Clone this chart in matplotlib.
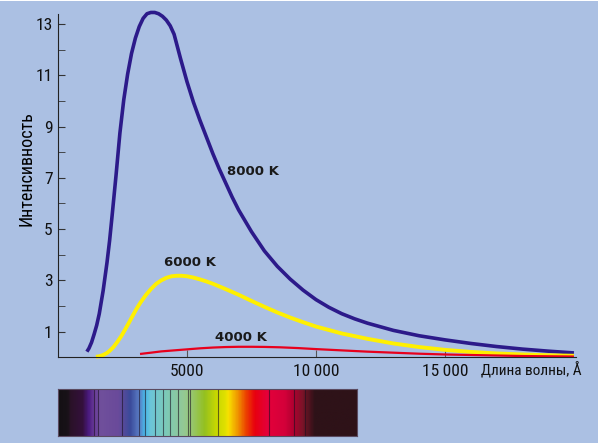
import matplotlib.pyplot as plt
import numpy as np
from matplotlib.colors import LinearSegmentedColormap
from matplotlib.patches import Rectangle

# wavelength (A) and intensity
wl_8000 = [1120, 1200, 1300, 1400, 1500, 1600, 1750, 1900, 2000, 2100, 2250, 2400,
           2550, 2700, 2850, 3000, 3150, 3300, 3450, 3600, 3750, 3900, 4050, 4200,
           4350, 4500, 4750, 5000, 5250, 5500, 5750, 6000, 6250, 6500, 6750, 7000,
           7500, 8000, 8500, 9000, 9500, 10000, 10500, 11000, 11500, 12000, 13000,
           14000, 15000, 16000, 17000, 18000, 19000, 20000]
i_8000 = [0.22, 0.35, 0.58, 0.9, 1.25, 1.7, 2.6, 3.7, 4.55, 5.55, 7.1, 8.75,
          10.05, 11.05, 11.85, 12.45, 12.9, 13.22, 13.4, 13.45, 13.45, 13.4, 13.3, 13.15,
          12.93, 12.6, 11.65, 10.75, 9.95, 9.25, 8.6, 7.95, 7.35, 6.8, 6.25, 5.75,
          4.9, 4.15, 3.55, 3.05, 2.62, 2.25, 1.95, 1.7, 1.5, 1.33, 1.05,
          0.84, 0.68, 0.54, 0.42, 0.32, 0.24, 0.17]

wl_6000 = [1470, 1600, 1750, 1900, 2000, 2150, 2300, 2450, 2600, 2750, 2900, 3050,
           3200, 3400, 3600, 3800, 4000, 4200, 4400, 4600, 4800, 5000, 5250, 5500,
           5750, 6000, 6500, 7000, 7500, 8000, 8500, 9000, 9500, 10000, 11000, 12000,
           13000, 14000, 15000, 16000, 17000, 18000, 19000, 20000]
i_6000 = [0.02, 0.04, 0.09, 0.17, 0.25, 0.4, 0.6, 0.82, 1.08, 1.35, 1.63, 1.9,
          2.14, 2.42, 2.66, 2.86, 3.0, 3.1, 3.16, 3.18, 3.18, 3.16, 3.11, 3.04,
          2.96, 2.87, 2.66, 2.44, 2.2, 1.97, 1.75, 1.55, 1.37, 1.2, 0.93, 0.72,
          0.54, 0.4, 0.29, 0.21, 0.15, 0.11, 0.08, 0.06]

wl_4000 = [3180, 3600, 4000, 4500, 5000, 5500, 6000, 6500, 7000, 7500, 8000, 8600,
           9300, 10000, 11000, 12000, 13000, 14000, 15000, 16000, 17000, 18000, 19000, 20000]
i_4000 = [0.13, 0.18, 0.23, 0.27, 0.31, 0.35, 0.38, 0.4, 0.41, 0.41, 0.405, 0.39,
          0.36, 0.32, 0.27, 0.22, 0.18, 0.14, 0.11, 0.09, 0.07, 0.05, 0.04, 0.03]

# spectrum strip: colour stops (fraction of strip width) and dark lines
spec_pos = [0.0, 0.03, 0.04, 0.08, 0.10, 0.12, 0.14, 0.20, 0.24, 0.27, 0.29, 0.31,
            0.36, 0.42, 0.44, 0.49, 0.53, 0.56, 0.57, 0.60, 0.63, 0.66, 0.70,
            0.76, 0.79, 0.82, 0.86, 1.0]
spec_col = ['#141014', '#181218', '#2a1228', '#34103c', '#4a1a80', '#6a3c98', '#70509c',
            '#6a4a9a', '#3a4a9a', '#5a7cc4', '#48b8e8', '#6cc6d8', '#7ccab8', '#94c894',
            '#98c87c', '#94c020', '#c8d800', '#e0e000', '#f8e200', '#f09a00', '#ec4000',
            '#e80010', '#e4003a', '#d4003a', '#b00030', '#7a1428', '#2e1218', '#2e1218']
spec_lines = [0.12, 0.135, 0.215, 0.27, 0.29, 0.325, 0.35, 0.375, 0.40, 0.435,
              0.44, 0.535, 0.705, 0.79, 0.825]

bg = '#abc0e3'

fig = plt.figure(figsize=(6, 4.45), dpi=100)
fig.patch.set_facecolor('white')
fig.patches.append(Rectangle((0, 0.004), 0.997, 0.993, transform=fig.transFigure,
                             facecolor=bg, edgecolor='none', zorder=-10))

narrow = ['Roboto Condensed', 'Liberation Sans Narrow', 'DejaVu Sans']

ax = fig.add_axes([58 / 600, 1 - 357.3 / 445, 518 / 600, 343.3 / 445])
ax.set_facecolor('none')
ax.plot(wl_8000, i_8000, color='#2c1a8a', lw=2.6, clip_on=False, solid_capstyle='butt')
ax.plot(wl_6000, i_6000, color='#fff000', lw=2.8, clip_on=False, solid_capstyle='butt')
ax.plot(wl_4000, i_4000, color='#e8001c', lw=1.6, clip_on=False, solid_capstyle='butt')

ax.set_xlim(0, 20080)
ax.set_ylim(0, 13.39)
for s in ['top', 'right']:
    ax.spines[s].set_visible(False)
ax.spines['left'].set_color('#222222')
ax.spines['bottom'].set_color('#222222')

ax.set_yticks([1, 3, 5, 7, 9, 11, 13])
ax.set_yticks([2, 4, 6, 8, 10, 12], minor=True)
ax.set_xticks([5000, 10000, 15000])
ax.set_xticklabels(['5000', '10\u2009000', '15\u2009000'])
ax.tick_params(axis='both', which='both', direction='in', colors='#333333',
               labelcolor='#111111', labelsize=12.5)
ax.tick_params(axis='y', which='major', length=5, pad=4)
ax.tick_params(axis='y', which='minor', length=5)
ax.tick_params(axis='x', length=5, pad=5, color='#555555')
for lab in ax.get_xticklabels() + ax.get_yticklabels():
    lab.set_family(narrow)
    lab.set_stretch('condensed')

ax.set_ylabel('Интенсивность', family=narrow, fontstretch='condensed', fontsize=13)
ax.yaxis.set_label_coords(-0.044, 0.551)
fig.text(582 / 600, 1 - 370 / 445, 'Длина волны, Å', ha='right', va='center',
         family=narrow, fontstretch='condensed', fontsize=11, color='#111111')

ax.text(7560, 7.23, '8000 K', fontsize=9.5, fontweight='bold', color='#1a1a1a',
        ha='center', va='center')
ax.text(5120, 3.68, '6000 K', fontsize=9.5, fontweight='bold', color='#1a1a1a',
        ha='center', va='center')
ax.text(7093, 0.79, '4000 K', fontsize=9.5, fontweight='bold', color='#1a1a1a',
        ha='center', va='center')

# spectrum strip
sax = fig.add_axes([58 / 600, 1 - 436 / 445, 299 / 600, 47 / 445])
cmap = LinearSegmentedColormap.from_list('spec', list(zip(spec_pos, spec_col)))
grad = np.linspace(0, 1, 600).reshape(1, -1)
sax.imshow(grad, aspect='auto', cmap=cmap, extent=[0, 1, 0, 1])
for p in spec_lines:
    sax.axvline(p, color='#1a1020', lw=0.8, alpha=0.6)
sax.set_xlim(0, 1)
sax.set_ylim(0, 1)
sax.set_xticks([])
sax.set_yticks([])
for s in sax.spines.values():
    s.set_color('#5a4a60')
    s.set_linewidth(0.8)

fig.savefig('out.png', dpi=100, facecolor=fig.get_facecolor())
